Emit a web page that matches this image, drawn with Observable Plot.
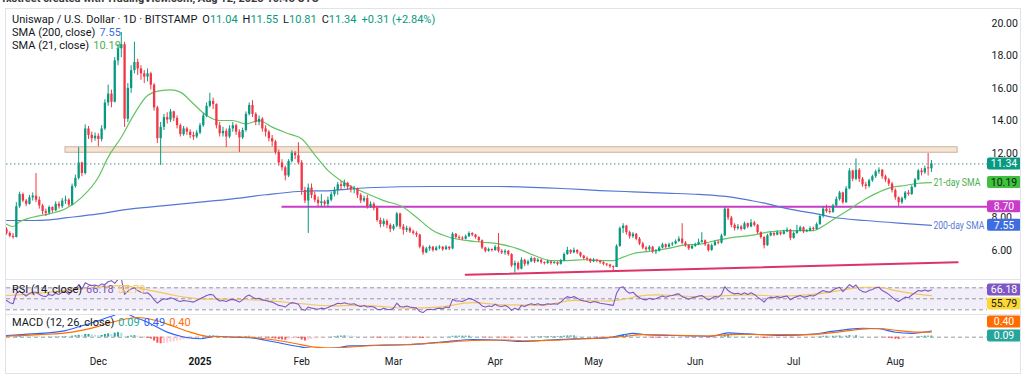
<!DOCTYPE html>
<html><head><meta charset="utf-8">
<script src="https://cdn.jsdelivr.net/npm/d3@7"></script>
<script src="https://cdn.jsdelivr.net/npm/@observablehq/plot@0.6"></script>
<style>
html,body{margin:0;padding:0;background:#fff;}
#wrap{position:relative;width:1024px;height:379px;overflow:hidden;font-family:Roboto,"Liberation Sans",sans-serif;color:#131722;background:#fff;}
#wrap svg{position:absolute;left:0;overflow:visible;}
.leg{position:absolute;left:12px;font-size:11px;line-height:13px;white-space:nowrap;color:#131722;}
.leg span.v{margin-left:4px;}
.leg span.k{margin-left:5px;}
.hdr{position:absolute;left:2px;top:0;height:4px;width:600px;overflow:hidden;}
.hdr div{margin-top:-8px;font-size:11px;font-weight:bold;color:#3a3a3a;white-space:nowrap;}
.line{position:absolute;background:#e0e3eb;}
</style></head>
<body><div id="wrap"></div>
<script>
// ---------- DATA ----------
const startDate = "2024-11-03";           // first daily candle
const firstOpen = 7.30;
const closes = [
7.05,6.88,6.80,8.70,9.45,9.05,8.85,9.25,9.35,9.10,
8.75,8.40,8.30,8.65,8.45,8.85,8.70,9.05,9.10,8.80,
9.95,10.45,11.40,10.75,13.50,13.10,12.90,13.05,12.85,13.50,
15.10,15.65,15.15,17.70,18.45,18.70,14.10,16.00,17.10,17.60,
17.20,16.90,16.70,16.90,16.20,14.80,12.90,13.60,14.20,14.05,
14.55,14.15,13.70,13.15,13.50,13.30,13.10,13.00,13.25,13.70,
14.30,14.90,15.20,15.00,13.70,13.20,13.35,13.00,13.50,13.70,
13.30,12.95,13.40,14.40,14.95,14.40,13.90,14.10,13.50,13.30,
12.90,12.70,12.05,11.40,11.10,10.60,11.50,12.00,11.85,11.40,
9.70,9.05,9.85,9.40,9.10,8.90,9.00,8.85,9.10,9.45,
9.70,10.05,9.95,10.15,9.90,9.75,9.80,9.40,9.05,9.20,
8.70,8.85,8.60,7.85,7.60,7.80,7.55,7.30,7.50,8.25,
7.45,7.25,7.35,7.15,7.05,6.95,6.20,5.85,6.10,6.20,
6.00,6.15,6.20,6.05,6.20,6.10,7.00,6.80,6.75,6.70,
6.85,7.05,6.95,6.80,6.60,6.15,5.95,6.05,6.00,6.20,
5.95,5.85,5.95,5.75,5.05,5.20,4.85,5.40,5.15,5.30,
5.50,5.30,5.40,5.25,5.20,5.30,5.20,5.25,5.15,5.35,
5.75,6.00,5.85,6.00,5.85,5.65,5.50,5.45,5.30,5.40,
5.35,5.25,5.15,5.10,5.00,4.95,6.25,7.35,7.50,7.10,
6.85,7.00,6.70,6.40,6.15,6.05,6.20,5.90,5.95,6.15,
6.35,6.20,6.35,6.40,6.55,6.70,6.45,6.30,6.10,6.25,
6.35,6.50,6.60,6.35,6.00,6.30,6.50,6.45,6.90,8.55,
8.00,7.55,7.35,7.45,7.30,7.65,7.45,7.70,7.55,7.10,
6.80,6.30,6.90,7.05,6.95,7.10,7.00,7.15,7.25,6.75,
7.05,7.20,7.40,7.15,7.20,7.35,7.30,7.60,8.10,8.55,
8.40,8.35,8.75,9.15,9.55,8.95,9.80,10.90,10.40,10.95,
10.40,10.05,9.95,10.30,10.55,10.85,10.95,10.55,10.35,10.10,
9.70,9.25,8.95,9.20,9.55,9.45,9.90,10.35,10.90,10.80,
11.05,11.04,11.34];
const highs = [
7.40,7.15,7.05,8.95,9.60,9.55,9.15,9.40,9.55,10.75,
9.30,8.85,8.55,8.75,8.70,9.00,9.00,9.20,9.35,9.20,
10.10,10.65,12.35,11.45,13.75,13.65,13.30,13.25,13.20,13.70,
15.30,16.20,15.90,17.90,18.70,19.45,18.85,16.30,17.40,18.85,
17.80,17.40,17.10,17.20,17.00,16.30,14.90,13.90,14.40,14.50,
14.70,14.60,14.30,13.80,13.65,13.60,13.45,13.30,13.40,13.85,
14.45,15.10,15.70,15.40,15.05,13.90,13.60,13.50,13.70,13.90,
13.80,13.45,13.55,14.55,15.10,15.25,14.50,14.30,14.20,13.70,
13.40,13.10,12.80,12.20,11.60,11.20,11.60,12.15,12.10,12.65,
11.55,9.90,10.10,10.10,9.60,9.30,9.45,9.10,9.30,9.60,
9.90,10.20,10.25,10.35,10.20,10.00,9.95,9.85,9.50,9.35,
9.40,9.00,8.95,8.70,8.00,7.95,7.90,7.65,7.60,8.35,
8.30,7.60,7.50,7.45,7.25,7.15,7.00,6.30,6.20,6.30,
6.25,6.25,6.30,6.25,6.30,6.25,7.10,7.05,6.90,6.85,
6.95,7.15,7.10,7.00,6.85,6.65,6.20,6.15,6.10,6.30,
7.05,6.05,6.05,6.00,5.80,5.35,5.30,5.55,5.45,5.40,
5.60,5.55,5.50,5.45,5.30,5.40,5.35,5.30,5.30,5.45,
5.85,6.20,6.05,6.15,6.05,5.90,5.70,5.60,5.50,5.50,
5.45,5.40,5.30,5.20,5.15,5.05,6.35,7.45,7.65,7.55,
7.20,7.10,7.05,6.80,6.50,6.25,6.30,6.25,6.05,6.25,
6.45,6.40,6.45,6.50,6.65,6.85,7.65,6.55,6.35,6.35,
6.45,6.70,7.10,6.65,6.40,6.40,6.60,6.60,7.00,8.65,
8.60,8.10,7.65,7.60,7.55,7.75,7.70,7.90,7.80,7.60,
7.15,6.85,7.00,7.15,7.10,7.20,7.15,7.25,7.40,7.30,
7.15,7.55,7.50,7.45,7.30,7.45,7.45,7.70,8.20,8.70,
8.80,8.60,8.85,9.30,9.65,9.60,9.95,11.05,10.95,11.65,
11.05,10.50,10.20,10.40,10.65,10.95,11.10,11.00,10.65,10.45,
10.20,9.80,9.30,9.30,9.65,9.70,10.00,10.45,11.00,11.05,
11.20,11.98,11.55];
const lows = [
6.95,6.78,6.70,6.78,8.60,8.95,8.70,8.80,9.05,8.95,
8.55,8.20,8.10,8.20,8.30,8.40,8.55,8.60,8.85,8.70,
8.75,9.85,10.35,10.55,10.65,12.85,12.65,12.75,12.40,12.70,
13.40,14.90,14.80,15.10,17.40,17.90,13.60,13.90,15.70,16.90,
16.80,16.50,16.30,16.40,15.90,14.60,12.60,11.25,13.40,13.80,
13.90,13.95,13.50,13.00,13.05,13.10,12.90,12.80,12.90,13.15,
13.60,14.20,14.80,14.70,13.50,13.00,13.00,12.35,12.90,13.30,
13.10,12.05,12.85,13.30,14.30,14.20,13.70,13.70,13.30,13.00,
12.70,12.40,11.90,11.20,10.90,10.30,10.50,11.40,11.60,11.30,
9.40,8.90,7.05,9.20,8.95,8.70,8.70,8.70,8.65,9.00,
9.30,9.40,9.70,9.85,9.75,9.55,9.50,9.20,8.90,8.95,
8.55,8.60,8.45,7.75,7.40,7.45,7.35,7.10,7.20,7.40,
7.30,6.95,7.10,7.05,6.95,6.80,6.10,5.70,5.80,5.95,
5.90,5.95,6.05,5.95,6.00,6.00,6.05,6.70,6.65,6.60,
6.65,6.80,6.85,6.70,6.50,6.05,5.85,5.90,5.90,5.95,
5.85,5.75,5.70,5.65,4.95,4.60,4.75,4.80,5.00,5.05,
5.25,5.20,5.25,5.15,5.10,5.15,5.10,5.15,5.05,5.10,
5.30,5.70,5.75,5.80,5.75,5.55,5.40,5.35,5.20,5.25,
5.25,5.15,5.05,5.00,4.90,4.75,4.95,6.20,7.05,6.95,
6.70,6.75,6.60,6.30,6.05,5.90,5.95,5.80,5.75,5.90,
6.10,6.10,6.15,6.25,6.35,6.50,6.35,6.20,6.00,6.05,
6.20,6.30,6.45,6.25,5.90,5.95,6.25,6.35,6.40,6.85,
7.85,7.40,7.20,7.25,7.20,7.25,7.35,7.40,7.45,7.00,
6.70,6.10,6.25,6.85,6.85,6.90,6.90,6.95,7.10,6.60,
6.70,7.00,7.15,7.05,7.10,7.15,7.20,7.25,7.55,8.00,
8.30,8.25,8.30,8.70,9.05,8.85,8.90,9.75,10.25,10.30,
10.20,9.90,9.75,9.85,10.20,10.45,10.70,10.40,10.20,9.95,
9.55,9.10,8.72,8.85,9.10,9.35,9.40,9.85,10.30,10.60,
10.70,10.60,10.81];

// moving averages: [day offset from startDate, value]
const sma21 = [[0,7.62],[2,7.48],[4,7.78],[8,8.05],[13,8.26],[18,8.57],[23,9.29],[28,10.52],[31,11.76],[35,12.99],[39,14.43],[43,15.56],[47,15.87],[50,15.91],[53,15.77],[57,15.05],[61,14.33],[65,14.02],[69,14.02],[73,13.81],[77,14.02],[81,13.61],[86,13.20],[90,12.89],[94,11.90],[98,10.94],[102,10.30],[110,9.50],[115,9.08],[121,8.67],[125,8.05],[130,7.23],[135,6.82],[140,6.62],[145,6.51],[150,6.41],[156,6.10],[161,5.69],[166,5.38],[171,5.38],[176,5.43],[181,5.38],[185,5.38],[188,5.59],[191,5.80],[196,5.95],[201,6.10],[206,6.31],[212,6.41],[214,6.51],[219,6.72],[222,6.82],[227,6.93],[232,7.13],[237,7.23],[242,7.23],[246,7.23],[250,7.64],[254,8.16],[258,8.67],[262,9.19],[266,9.60],[270,9.91],[274,10.01],[278,10.15],[282,10.19]];
const sma200 = [[0,7.85],[8,7.85],[13,7.89],[18,8.01],[28,8.26],[38,8.57],[49,8.78],[59,8.98],[69,9.19],[79,9.44],[89,9.64],[99,9.70],[110,9.87],[130,9.95],[150,9.95],[171,9.81],[181,9.70],[191,9.62],[201,9.54],[211,9.46],[221,9.29],[227,9.08],[232,8.88],[237,8.63],[242,8.43],[247,8.26],[252,8.05],[262,7.85],[272,7.69],[282,7.55]];

// RSI (14) and its moving average
const rsi = [[0,47],[1,43],[2,41],[3,60],[4,64],[5,59],[6,55],[7,60],[8,62],[9,62],[10,58],[11,55],[12,54],[13,58],[14,56],[15,60],[16,58],[17,62],[18,63],[19,58],[20,64],[21,68],[22,75],[23,68],[24,79],[25,76],[26,74],[27,75],[28,73],[29,77],[30,76],[31,81],[32,83],[33,78],[34,85],[35,87],[36,58],[37,64],[38,68],[39,70],[40,65],[41,62],[42,60],[43,61],[44,56],[45,48],[46,42],[47,47],[48,50],[49,49],[50,52],[51,50],[52,47],[53,45],[54,47],[55,46],[56,45],[57,44],[58,47],[59,50],[60,53],[61,56],[62,58],[63,57],[64,50],[65,46],[66,47],[67,45],[68,48],[69,49],[70,47],[71,44],[72,48],[73,54],[74,57],[75,53],[76,50],[77,51],[78,48],[79,47],[80,45],[81,44],[82,41],[83,38],[84,37],[85,35],[86,40],[87,43],[88,42],[89,40],[90,31],[91,29],[92,35],[93,33],[94,32],[95,31],[96,33],[97,32],[98,34],[99,37],[100,39],[101,42],[102,41],[103,43],[104,41],[105,40],[106,41],[107,38],[108,36],[109,38],[110,35],[111,36],[112,35],[113,31],[114,30],[115,33],[116,31],[117,30],[118,33],[119,42],[120,36],[121,35],[122,37],[123,35],[124,34],[125,33],[126,27],[127,25],[128,30],[129,31],[130,30],[131,32],[132,33],[133,32],[134,35],[135,34],[136,49],[137,46],[138,46],[139,45],[140,48],[141,51],[142,49],[143,46],[144,43],[145,37],[146,35],[147,37],[148,36],[149,40],[150,37],[151,36],[152,38],[153,35],[154,29],[155,33],[156,30],[157,38],[158,36],[159,39],[160,41],[161,39],[162,41],[163,39],[164,39],[165,41],[166,40],[167,41],[168,40],[169,44],[170,50],[171,54],[172,52],[173,54],[174,51],[175,48],[176,46],[177,45],[178,43],[179,45],[180,44],[181,42],[182,41],[183,40],[184,39],[185,38],[186,60],[187,70],[188,72],[189,64],[190,60],[191,62],[192,56],[193,52],[194,49],[195,48],[196,51],[197,49],[198,50],[199,53],[200,55],[201,53],[202,55],[203,56],[204,58],[205,59],[206,54],[207,52],[208,49],[209,52],[210,53],[211,55],[212,56],[213,52],[214,48],[215,51],[216,54],[217,53],[218,58],[219,72],[220,65],[221,61],[222,59],[223,60],[224,58],[225,61],[226,58],[227,61],[228,58],[229,53],[230,49],[231,44],[232,51],[233,53],[234,52],[235,54],[236,52],[237,54],[238,55],[239,48],[240,52],[241,54],[242,56],[243,53],[244,54],[245,56],[246,55],[247,58],[248,62],[249,65],[250,63],[251,62],[252,66],[253,69],[254,71],[255,63],[256,69],[257,76],[258,71],[259,75],[260,67],[261,63],[262,62],[263,65],[264,67],[265,70],[266,71],[267,65],[268,62],[269,58],[270,53],[271,48],[272,45],[273,49],[274,53],[275,52],[276,57],[277,61],[278,65],[279,64],[280,66],[281,64],[282,66.18]];
const rsiMA = [[0,56],[8,59],[18,65],[28,71],[35,74],[39,71],[44,65],[49,59],[54,53],[59,50],[69,49],[79,47],[90,41],[100,37],[105,38],[112,37],[122,33],[132,35],[142,43],[152,39],[163,38],[173,47],[183,46],[188,49],[193,55],[198,57],[204,56],[210,54],[216,55],[226,57],[236,55],[246,58],[251,62],[256,67],[261,71],[266,71],[271,65],[276,60],[282,55.79]];

// MACD (12, 26)
const macdLine = [[0,0.13],[8,0.26],[18,0.52],[23,0.90],[28,1.30],[32,1.65],[35,1.90],[37,1.82],[39,1.57],[42,1.30],[45,0.92],[49,0.40],[54,0.02],[59,-0.12],[64,0.08],[69,0.00],[74,-0.03],[79,-0.24],[84,-0.50],[90,-0.78],[95,-0.92],[100,-0.85],[105,-0.68],[112,-0.64],[122,-0.60],[132,-0.40],[142,-0.18],[152,-0.26],[157,-0.34],[163,-0.26],[173,-0.13],[183,-0.05],[188,0.18],[191,0.30],[195,0.20],[204,0.13],[210,0.10],[215,0.08],[220,0.34],[226,0.26],[236,0.13],[246,0.24],[251,0.44],[256,0.60],[261,0.71],[266,0.66],[271,0.39],[276,0.30],[282,0.49]];
const signalLine = [[0,0.08],[10,0.20],[20,0.40],[28,0.85],[34,1.30],[40,1.55],[44,1.42],[50,0.95],[56,0.40],[62,0.05],[70,0.02],[76,-0.04],[82,-0.22],[88,-0.50],[94,-0.78],[100,-0.86],[106,-0.75],[114,-0.63],[124,-0.56],[132,-0.44],[142,-0.26],[152,-0.22],[160,-0.29],[170,-0.20],[182,-0.06],[188,0.05],[194,0.20],[204,0.15],[214,0.10],[222,0.22],[232,0.20],[244,0.20],[252,0.36],[260,0.62],[266,0.68],[272,0.52],[278,0.40],[282,0.40]];
const hist = [
0.05,0.04,0.03,0.10,0.16,0.15,0.12,0.11,0.10,0.09,
0.06,0.04,0.02,0.02,0.02,0.03,0.03,0.04,0.05,0.04,
0.08,0.11,0.15,0.12,0.22,0.22,0.18,0.15,0.12,0.14,
0.22,0.26,0.22,0.32,0.36,0.32,0.05,0.06,0.10,0.12,
0.08,0.02,-0.04,-0.08,-0.15,-0.30,-0.48,-0.52,-0.50,-0.46,
-0.40,-0.36,-0.30,-0.26,-0.22,-0.19,-0.16,-0.13,-0.08,-0.03,
0.02,0.06,0.10,0.10,0.04,-0.01,-0.03,-0.04,-0.02,0.00,
-0.01,-0.03,0.00,0.04,0.07,0.05,0.03,0.02,-0.02,-0.04,
-0.07,-0.10,-0.14,-0.18,-0.22,-0.24,-0.18,-0.12,-0.10,-0.10,
-0.22,-0.30,-0.22,-0.18,-0.14,-0.10,-0.07,-0.05,-0.02,0.02,
0.05,0.08,0.09,0.10,0.09,0.08,0.07,0.04,0.02,0.01,
-0.01,-0.01,-0.03,-0.06,-0.08,-0.07,-0.06,-0.06,-0.04,0.00,
-0.03,-0.04,-0.05,-0.05,-0.05,-0.05,-0.09,-0.10,-0.08,-0.06,
-0.05,-0.03,-0.02,0.00,0.01,0.02,0.07,0.08,0.08,0.08,
0.08,0.08,0.06,0.04,0.02,-0.02,-0.04,-0.05,-0.04,-0.03,
-0.04,-0.05,-0.05,-0.05,-0.09,-0.08,-0.07,-0.05,-0.02,0.00,
0.02,0.03,0.04,0.05,0.05,0.05,0.05,0.05,0.05,0.06,
0.08,0.10,0.10,0.10,0.08,0.05,0.03,0.01,-0.01,-0.02,
-0.03,-0.05,-0.06,-0.07,-0.08,-0.09,0.00,0.10,0.16,0.17,
0.16,0.14,0.11,0.07,0.03,-0.01,-0.04,-0.06,-0.07,-0.07,
-0.06,-0.05,-0.04,-0.03,-0.02,-0.01,-0.01,-0.02,-0.03,-0.03,
-0.03,-0.02,-0.01,-0.02,-0.04,-0.04,-0.03,-0.02,0.04,0.13,
0.14,0.12,0.09,0.07,0.05,0.04,0.03,0.03,0.01,-0.02,
-0.05,-0.09,-0.09,-0.08,-0.07,-0.06,-0.05,-0.04,-0.03,-0.04,
-0.03,-0.02,-0.01,0.00,0.00,0.01,0.01,0.02,0.04,0.07,
0.08,0.07,0.07,0.08,0.09,0.07,0.08,0.12,0.11,0.11,
0.07,0.04,0.01,0.00,0.00,0.01,0.01,-0.02,-0.05,-0.08,
-0.12,-0.16,-0.18,-0.16,-0.13,-0.10,-0.05,0.00,0.05,0.06,
0.08,0.08,0.09];

// annotations
const priceTicks = [6, 8, 12, 14, 16, 18, 20];   // 10.00 is hidden behind the SMA label in the original
const monthTicks = ["2024-12-01","2025-01-01","2025-02-01","2025-03-01","2025-04-01","2025-05-01","2025-06-01","2025-07-01","2025-08-01"];
const resistanceBand = {from: "2024-11-21", to: "2025-08-20", low: 12.03, high: 12.37};
const supportLevel = {from: "2025-01-26", to: "2025-08-30", value: 8.70};
const trendLine = [{date: "2025-03-23", value: 4.50}, {date: "2025-08-20", value: 5.28}];

// ---------- BUILD ----------
const T0 = new Date(startDate + "T00:00:00Z").getTime();
const DAY = 864e5;
const day = d => new Date(T0 + d * DAY);
const dt = s => new Date(s + "T00:00:00Z");
const UP = "#089981", DN = "#f23645";

const candles = closes.map((c, i) => {
  const o = i === 0 ? firstOpen : closes[i - 1];
  return {date: day(i), open: o, close: c, high: Math.max(highs[i], o, c), low: Math.min(lows[i], o, c),
          lo: Math.min(o, c), hi: Math.max(o, c), color: c >= o ? UP : DN};
});
const histData = hist.map((v, i) => {
  const p = i === 0 ? 0 : hist[i - 1];
  const color = v >= 0 ? (v >= p ? "#26a69a" : "#b2dfdb") : (v <= p ? "#ff5252" : "#ffcdd2");
  return {date: day(i), v, color};
});
const pt = () => ({x: d => day(d[0]), y: d => d[1]});

const xDomain = [day(0), day(299.1)];
const common = {
  width: 1024, marginLeft: 6, marginRight: 37,
  x: {type: "utc", domain: xDomain, axis: null},
  color: {type: "identity"},
  style: {fontFamily: "Roboto, 'Liberation Sans', sans-serif", fontSize: "10.5px", background: "transparent", overflow: "visible"}
};
const wrap = document.getElementById("wrap");

function addBoxes(svg, labels, fixedIndex) {
  const y = svg.scale("y");
  const xr = svg.scale("x").range[1];
  const pos = labels.map(l => y.apply(l.value));
  if (fixedIndex != null) {
    labels.forEach((l, i) => {
      if (i === fixedIndex) return;
      const f = pos[fixedIndex];
      if (Math.abs(pos[i] - f) < 14) pos[i] = pos[i] > f ? f + 14 : f - 14;
    });
  }
  const s = d3.select(svg);
  labels.forEach((l, i) => {
    const g = s.append("g");
    g.append("rect").attr("x", xr).attr("y", pos[i] - 6).attr("width", 34).attr("height", 12).attr("rx", 2).attr("fill", l.bg);
    g.append("text").attr("x", xr + 17).attr("y", pos[i]).attr("dy", "0.36em").attr("text-anchor", "middle")
      .attr("font-size", "10.5px").attr("fill", l.fg || "#fff").text(l.value.toFixed(2));
  });
}

// main price pane
const main = Plot.plot({
  ...common, height: 270, marginTop: 0, marginBottom: 0,
  y: {domain: [4.21, 20.87]},
  marks: [
    Plot.rect([resistanceBand], {x1: d => dt(d.from), x2: d => dt(d.to), y1: "low", y2: "high", fill: "#f8e4d2", stroke: "#c4b3a3", strokeWidth: 1}),
    Plot.ruleY([closes[closes.length - 1]], {stroke: "#4f8f86", strokeDasharray: "1.5,2.5", strokeWidth: 1}),
    Plot.ruleY([supportLevel], {y: "value", x1: d => dt(d.from), x2: d => dt(d.to), stroke: "#c93bc9", strokeWidth: 2}),
    Plot.line(trendLine, {x: d => dt(d.date), y: "value", stroke: "#dc3468", strokeWidth: 2}),
    Plot.line(sma200, {...pt(), stroke: "#5577d4", strokeWidth: 1.2, curve: "monotone-x"}),
    Plot.line(sma21, {...pt(), stroke: "#62c462", strokeWidth: 1.2, curve: "monotone-x"}),
    Plot.ruleX(candles, {x: "date", y1: "low", y2: "high", stroke: "color", strokeWidth: 1}),
    Plot.ruleX(candles, {x: "date", y1: "lo", y2: d => Math.max(d.hi, d.lo + 0.06), stroke: "color", strokeWidth: 2.3}),
    Plot.text([sma21[sma21.length - 1]], {...pt(), text: () => "21-day SMA", textAnchor: "start", dx: 2, fill: "#4caf50", fontSize: 10}),
    Plot.text([sma200[sma200.length - 1]], {...pt(), text: () => "200-day SMA", textAnchor: "start", dx: 2, fill: "#5a7bd6", fontSize: 10}),
    Plot.axisY({anchor: "right", ticks: priceTicks, tickSize: 0, tickPadding: 4, tickFormat: d => d.toFixed(2), color: "#131722"})
  ]
});
main.style.top = "9px";
wrap.appendChild(main);
// the original draws these labels in a condensed face: fit them to their width
d3.select(main).selectAll("text").filter(function() { return /day SMA/.test(this.textContent); })
  .attr("textLength", function() { return this.textContent.startsWith("21") ? 47 : 51; })
  .attr("lengthAdjust", "spacingAndGlyphs");
addBoxes(main, [
  {value: closes[closes.length - 1], bg: "#089981"},
  {value: sma21[sma21.length - 1][1], bg: "#3fc13f", fg: "#0d260d"},
  {value: supportLevel.value, bg: "#c93bc9"},
  {value: sma200[sma200.length - 1][1], bg: "#3d6de0"}
]);

// RSI pane
const rsiPlot = Plot.plot({
  ...common, height: 34, marginTop: 0, marginBottom: 0,
  y: {domain: [21.45, 83.3], axis: null},
  marks: [
    Plot.rect([{lo: 30, hi: 70}], {y1: "lo", y2: "hi", fill: "#7e57c2", fillOpacity: 0.1}),
    Plot.ruleY([70, 50, 30], {stroke: "#9598a1", strokeDasharray: "4,3", strokeWidth: 1}),
    Plot.line(rsiMA, {...pt(), stroke: "#f2c75c", strokeWidth: 1.2, curve: "monotone-x", clip: true}),
    Plot.line(rsi, {...pt(), stroke: "#7e57c2", strokeWidth: 1.1, clip: true})
  ]
});
rsiPlot.style.top = "280px";
wrap.appendChild(rsiPlot);
addBoxes(rsiPlot, [
  {value: rsi[rsi.length - 1][1], bg: "#7e57c2"},
  {value: rsiMA[rsiMA.length - 1][1], bg: "#fdd835", fg: "#131722"}
], 0);

// MACD pane + time axis
const fmtMonth = s => { const d = dt(s); return d.getUTCMonth() === 0 ? String(d.getUTCFullYear()) : d3.utcFormat("%b")(d); };
const macdPlot = Plot.plot({
  ...common, height: 57, marginTop: 0, marginBottom: 24,
  y: {domain: [-0.89, 1.709], axis: null},
  marks: [
    Plot.ruleY([0], {stroke: "#9598a1", strokeDasharray: "4,3", strokeWidth: 1}),
    Plot.ruleX(histData, {x: "date", y1: () => 0, y2: "v", stroke: "color", strokeWidth: 2}),
    Plot.line(macdLine, {...pt(), stroke: "#2962ff", strokeWidth: 1.1, curve: "monotone-x", clip: true}),
    Plot.line(signalLine, {...pt(), stroke: "#ff6d00", strokeWidth: 1.1, curve: "monotone-x", clip: true}),
    Plot.text(monthTicks.filter(s => dt(s).getUTCMonth() !== 0), {x: dt, text: fmtMonth, frameAnchor: "bottom", dy: 16, fill: "#131722", fontSize: 10}),
    Plot.text(monthTicks.filter(s => dt(s).getUTCMonth() === 0), {x: dt, text: fmtMonth, frameAnchor: "bottom", dy: 16, fill: "#131722", fontSize: 10, fontWeight: "bold"})
  ]
});
macdPlot.style.top = "315px";
wrap.appendChild(macdPlot);
addBoxes(macdPlot, [
  {value: hist[hist.length - 1], bg: "#26a69a"},
  {value: signalLine[signalLine.length - 1][1], bg: "#ff6d00"}
], 0);

// frame & separators
const addLine = (l, t, w, h) => { const e = document.createElement("div"); e.className = "line"; Object.assign(e.style, {left: l + "px", top: t + "px", width: w + "px", height: h + "px"}); wrap.appendChild(e); };
addLine(5, 8, 1016, 1); addLine(5, 8, 1, 366); addLine(1020, 8, 1, 366); addLine(5, 373, 1016, 1);
addLine(5, 279, 1016, 1); addLine(5, 314, 1016, 1);

// header (cut off at the top of the picture)
wrap.insertAdjacentHTML("beforeend", `<div class="hdr"><div>fxstreet created with TradingView.com, Aug 12, 2025 10:46 UTC</div></div>`);

// legends
const G = "#089981";
wrap.insertAdjacentHTML("beforeend", `
<div class="leg" style="top:13px">Uniswap / U.S. Dollar · 1D · BITSTAMP<span class="k">O<span style="color:${G}">11.04</span></span><span class="k">H<span style="color:${G}">11.55</span></span><span class="k">L<span style="color:${G}">10.81</span></span><span class="k">C<span style="color:${G}">11.34</span></span><span class="k" style="color:${G}">+0.31 (+2.84%)</span></div>
<div class="leg" style="top:26px">SMA (200, close)<span class="v" style="color:#3d6de0">7.55</span></div>
<div class="leg" style="top:39px">SMA (21, close)<span class="v" style="color:#4caf50">10.19</span></div>
<div class="leg" style="top:283px">RSI (14, close)<span class="v" style="color:#7e57c2">66.18</span><span class="v" style="color:#f2c75c">55.79</span></div>
<div class="leg" style="top:316px">MACD (12, 26, close)<span class="v" style="color:#26a69a">0.09</span><span class="v" style="color:#2962ff">0.49</span><span class="v" style="color:#ff6d00">0.40</span></div>
`);
</script></body></html>
